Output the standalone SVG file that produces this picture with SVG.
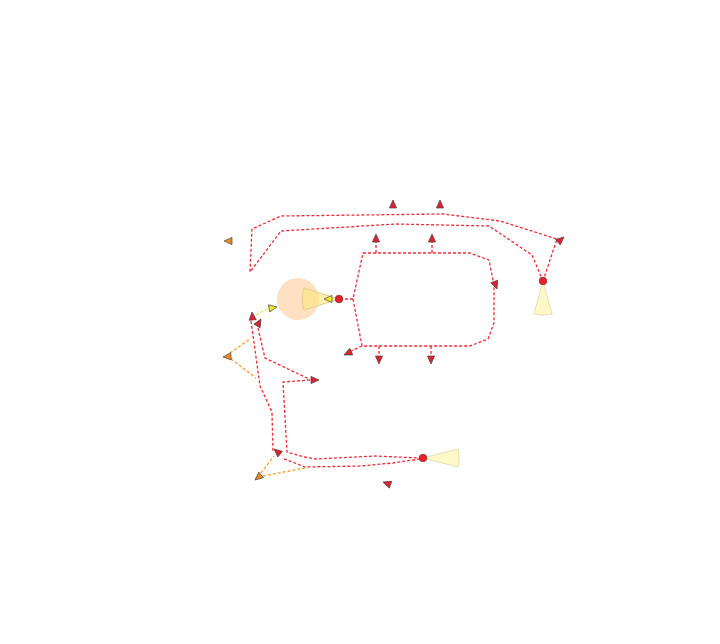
<svg xmlns="http://www.w3.org/2000/svg" xmlns:xlink="http://www.w3.org/1999/xlink" width="720" height="644" viewBox="0 0 720 644">
<style>
.r{fill:none;stroke:#ee2a3a;stroke-width:1.3;stroke-dasharray:3,2}
.o{fill:none;stroke:#f5a030;stroke-width:1.3;stroke-dasharray:3,2}
.y{fill:none;stroke:#f2e860;stroke-width:1.3;stroke-dasharray:3,2}
.ar{fill:#e61e2e}
.ao{fill:#ee8a1c}
.ay{fill:#f2ea20}
.dot{fill:#e8202e;stroke:#883333;stroke-width:0.8}
.cone{fill:#fff8c8;stroke:#e6dfb0;stroke-width:1}
</style>
<defs>
<polygon id="ah" points="0,0 -8,-3.6 -8,3.6" stroke="#444" stroke-width="0.7" stroke-linejoin="round"/>
</defs>
<rect width="720" height="644" fill="#fff"/>
<g id="halo">
<circle cx="298" cy="299" r="21" fill="#fde1c2"/>
</g>
<g id="cones">
<path d="M339,299 L304,288 A37,37 0 0 0 304,310 Z" style="fill:#ffe67a;fill-opacity:0.6;stroke:#e2cf90;stroke-width:1"/>
<path class="cone" d="M543,281 L534,314 A35,35 0 0 0 552,314 Z"/>
<path class="cone" d="M423,458 L458,449 A36,36 0 0 1 458,467 Z"/>
</g>
<g id="connectors">
<path class="r" d="M543,281 L532,255 L489,226 L396,224 L281,231 L250,272 L252,229 L281,216 L443,214 L500,221 L557,239 L543,281"/>
<path class="r" d="M363,253 L470,253 L489,260 L494,285 L494,323 L488,339 L470,346 L362,346 L353,299 Z"/>
<path class="r" d="M353,299 L342,299"/>
<path class="r" d="M376,253 L376,241"/>
<path class="r" d="M432,253 L432,241"/>
<path class="r" d="M379,346 L379,357"/>
<path class="r" d="M431,346 L431,357"/>
<path class="r" d="M362,346 L351,351"/>
<path class="r" d="M251,321 L260,386 L272,412 L273,452"/>
<path class="r" d="M258,328 L265,358 L309,379"/>
<path class="r" d="M310,380 L283,382 L287,452 L304,457 L316,459 L375,456 L420,458"/>
<path class="r" d="M420,459 L393,463 L360,466 L305,467 L282,458"/>
<path class="o" d="M230,353 L250,339"/>
<path class="o" d="M231,359 L256,378"/>
<path class="o" d="M261,473 L274,456"/>
<path class="o" d="M263,476 L305,468"/>
<path class="y" d="M256,315 L267,309"/>
</g>
<g id="arrows">
<use xlink:href="#ah" class="ar" transform="translate(393,200) rotate(-90)"/>
<use xlink:href="#ah" class="ar" transform="translate(440,200) rotate(-90)"/>
<use xlink:href="#ah" class="ar" transform="translate(376,234) rotate(-90)"/>
<use xlink:href="#ah" class="ar" transform="translate(432,234) rotate(-90)"/>
<use xlink:href="#ah" class="ar" transform="translate(379,364) rotate(90)"/>
<use xlink:href="#ah" class="ar" transform="translate(431,364) rotate(90)"/>
<use xlink:href="#ah" class="ar" transform="translate(564,237) rotate(-40)"/>
<use xlink:href="#ah" class="ar" transform="translate(497,289) rotate(70)"/>
<use xlink:href="#ah" class="ar" transform="translate(344,355) rotate(155)"/>
<use xlink:href="#ah" class="ar" transform="translate(252,312) rotate(-95)"/>
<use xlink:href="#ah" class="ar" transform="translate(261,319) rotate(-60)"/>
<use xlink:href="#ah" class="ar" transform="translate(319,380) rotate(0)"/>
<use xlink:href="#ah" class="ar" transform="translate(274,449) rotate(-140)"/>
<use xlink:href="#ah" class="ar" transform="translate(383,482) rotate(-160)"/>
<use xlink:href="#ah" class="ao" transform="translate(224,241) rotate(180)"/>
<use xlink:href="#ah" class="ao" transform="translate(223,357) rotate(175)"/>
<use xlink:href="#ah" class="ao" transform="translate(255,480) rotate(140)"/>
<use xlink:href="#ah" class="ay" transform="translate(324,299) rotate(180)"/>
<use xlink:href="#ah" class="ay" transform="translate(277,307) rotate(-10)"/>
</g>
<g id="n1"><circle class="dot" cx="339" cy="299" r="3.8"/></g>
<g id="n2"><circle class="dot" cx="543" cy="281" r="3.8"/></g>
<g id="n3"><circle class="dot" cx="423" cy="458" r="3.8"/></g>
</svg>
